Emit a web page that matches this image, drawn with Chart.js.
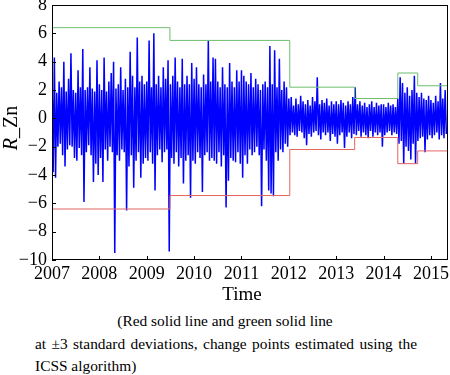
<!DOCTYPE html>
<html>
<head>
<meta charset="utf-8">
<script src="https://cdn.jsdelivr.net/npm/chart.js@4/dist/chart.umd.min.js"></script>
<style>
  html, body { margin: 0; padding: 0; background: #fff; }
  #wrap { position: relative; width: 450px; height: 305px; }
  .caption { font-family: 'Liberation Serif', 'Times New Roman', serif; font-size: 15.4px; line-height: 22.5px; color: #000; }
  .cap1 { text-align: center; margin-top: 5px; }
  .cap2 { margin: 0 33px 0 35px; text-align: justify; }
</style>
</head>
<body>
<div id="wrap"><canvas id="chart" width="450" height="305"></canvas></div>
<div class="caption cap1">(Red solid line and green solid line</div>
<div class="caption cap2">at ±3 standard deviations, change points estimated using the ICSS algorithm)</div>
<script>
// R_Zn returns: 40 samples per year (spike tops / bottoms)
var r2007 = [3.0,-3.8, 4.3,-4.2, 1.8,-2.0, 2.6,-1.8, 2.2,-2.6, 4.0,-3.4, 1.9,-2.2, 2.8,-1.9, 4.6,-2.0, 2.0,-2.8,
             1.8,-3.0, 3.4,-2.1, 2.2,-2.6, 4.9,-5.9, 2.0,-2.4, 2.2,-1.9, 3.6,-2.6, 2.1,-4.5, 1.9,-3.2, 4.1,-4.0];
var r2008 = [2.4,-2.8, 2.0,-4.5, 4.3,-2.2, 1.9,-3.0, 2.6,-2.0, 3.2,-2.4, 4.0,-9.5, 2.1,-2.6, 2.4,-3.0, 3.6,-2.2,
             2.0,-2.4, 2.8,-6.5, 2.2,-3.4, 4.7,-2.6, 3.0,-4.9, 2.2,-3.0, 5.7,-2.4, 2.6,-4.2, 3.0,-3.2, 2.4,-2.8];
var r2009 = [2.6,-3.0, 5.5,-2.4, 2.2,-3.2, 6.0,-5.1, 2.4,-2.6, 3.0,-2.2, 2.2,-3.1, 3.6,-2.4, 2.8,-2.2, 4.1,-9.4,
             2.4,-2.8, 3.0,-3.2, 4.3,-2.4, 2.6,-3.4, 2.2,-2.8, 4.2,-4.6, 2.4,-3.0, 3.0,-2.6, 2.4,-5.6, 3.9,-3.0];
var r2010 = [2.8,-3.2, 3.6,-2.4, 2.4,-2.8, 2.2,-5.2, 3.1,-2.6, 2.4,-2.4, 5.5,-3.0, 2.6,-2.8, 4.3,-3.0, 4.2,-3.2,
             2.6,-2.4, 2.2,-3.4, 3.6,-2.6, 2.4,-6.3, 2.2,-4.4, 3.9,-2.8, 2.6,-3.0, 2.2,-3.1, 3.4,-2.4, 2.6,-3.2];
var r2011 = [3.4,-4.2, 3.0,-2.6, 2.6,-3.2, 2.4,-2.2, 3.2,-2.6, 2.2,-2.4, 2.8,-2.0, 2.4,-2.6, 2.0,-6.2, 2.4,-2.2,
             2.6,-3.0, 2.2,-5.1, 5.1,-5.3, 2.4,-5.5, 4.8,-2.4, 2.2,-3.0, 4.2,-2.2, 2.0,-2.4, 2.6,-1.8, 2.2,-2.0];
var r2012 = [1.4,-1.2, 1.5,-1.0, 0.9,-1.2, 1.4,-1.3, 1.0,-0.9, 1.6,-1.0, 1.2,-1.4, 1.0,-1.9, 1.3,-1.1, 0.9,-1.3,
             1.5,-1.0, 1.2,-0.9, 2.9,-1.2, 1.0,-1.5, 1.3,-1.0, 1.1,-1.2, 1.4,-1.0, 0.9,-1.6, 1.2,-1.1, 1.0,-1.3];
var r2013 = [1.2,-1.8, 1.0,-1.2, 1.3,-1.0, 1.1,-2.1, 0.9,-1.3, 1.2,-1.0, 1.0,-1.4, 1.5,-1.1, 2.2,-1.2, 1.0,-0.9,
             1.2,-1.3, 0.9,-1.0, 1.1,-1.2, 0.8,-1.4, 1.0,-0.9, 1.2,-1.3, 0.8,-1.0, 1.1,-1.2, 0.9,-1.0, 1.0,-2.0];
var r2014 = [1.0,-1.2, 0.8,-1.0, 1.1,-0.9, 0.9,-1.2, 1.0,-1.0, 0.8,-1.1, 1.4,-1.8, 2.9,-1.6, 2.5,-3.2, 1.8,-2.0,
             2.2,-2.3, 1.6,-2.9, 2.0,-1.8, 3.0,-3.2, 1.8,-1.6, 1.5,-1.4, 1.8,-1.3, 1.4,-2.4, 1.3,-1.5, 1.6,-1.2];
var r2015 = [1.3,-1.4, 1.1,-1.2, 1.6,-1.0, 1.2,-1.5, 2.5,-1.2, 1.4,-1.4, 2.0,-1.1];

var startYear = 2007;
var samplesPerYear = 40;

// ICSS change points and +/-3 sd bands
var changeYears = [2007, 2009.49, 2012.02, 2013.39, 2014.30, 2014.72, 2015.36];
var upperBand = [6.4, 5.5, 2.2, 1.4, 3.2, 2.3];
var lowerBand = [-6.4, -5.45, -2.2, -1.35, -3.2, -2.3];

var xTitle = 'Time';
var serif = '"Liberation Serif", "Times New Roman", serif';

var rZn = [].concat(r2007, r2008, r2009, r2010, r2011, r2012, r2013, r2014, r2015);
var seriesPoints = [];
for (var i = 0; i < rZn.length; i++) {
  seriesPoints.push({ x: startYear + i / samplesPerYear, y: rZn[i] });
}

function bandPoints(levels) {
  var pts = [];
  for (var i = 0; i < levels.length; i++) {
    pts.push({ x: changeYears[i], y: levels[i] });
  }
  pts.push({ x: changeYears[changeYears.length - 1], y: levels[levels.length - 1] });
  return pts;
}

// box, inward tick marks and axis titles (R in italics)
var framePlugin = {
  id: 'frame',
  afterDraw: function(chart) {
    var ctx = chart.ctx, a = chart.chartArea;
    var xs = chart.scales.x, ys = chart.scales.y;
    ctx.save();
    ctx.strokeStyle = '#000';
    ctx.lineWidth = 1;
    ctx.strokeRect(Math.round(a.left) + 0.5, Math.round(a.top) + 0.5,
                   Math.round(a.right - a.left) - 1, Math.round(a.bottom - a.top) - 1);
    ctx.beginPath();
    xs.ticks.forEach(function(t) {
      var px = Math.round(xs.getPixelForValue(t.value)) + 0.5;
      ctx.moveTo(px, a.bottom);
      ctx.lineTo(px, a.bottom - 4);
    });
    ys.ticks.forEach(function(t) {
      var py = Math.round(ys.getPixelForValue(t.value)) + 0.5;
      ctx.moveTo(a.left, py);
      ctx.lineTo(a.left + 4, py);
    });
    ctx.stroke();

    ctx.fillStyle = '#000';
    ctx.textBaseline = 'middle';
    ctx.textAlign = 'center';
    ctx.font = '19px ' + serif;
    ctx.fillText(xTitle, 242, 295);

    ctx.translate(12, 128);
    ctx.rotate(-Math.PI / 2);
    ctx.textAlign = 'left';
    ctx.font = 'italic 20px ' + serif;
    var w1 = ctx.measureText('R').width;
    ctx.font = '20px ' + serif;
    var w2 = ctx.measureText('_Zn').width;
    var x0 = -(w1 + w2) / 2;
    ctx.font = 'italic 20px ' + serif;
    ctx.fillText('R', x0, 0);
    ctx.font = '20px ' + serif;
    ctx.fillText('_Zn', x0 + w1, 0);
    ctx.restore();
  }
};

var ctx = document.getElementById('chart').getContext('2d');
new Chart(ctx, {
  type: 'line',
  data: {
    datasets: [
      {
        label: 'upper',
        data: bandPoints(upperBand),
        borderColor: 'rgb(110,190,110)',
        borderWidth: 1,
        pointRadius: 0,
        stepped: true
      },
      {
        label: 'lower',
        data: bandPoints(lowerBand),
        borderColor: 'rgb(228,100,100)',
        borderWidth: 1,
        pointRadius: 0,
        stepped: true
      },
      {
        label: 'R_Zn',
        data: seriesPoints,
        borderColor: '#0000ff',
        borderWidth: 1.5,
        pointRadius: 0,
        tension: 0
      }
    ]
  },
  options: {
    responsive: false,
    animation: false,
    devicePixelRatio: 1,
    layout: { padding: { top: 5, right: 2, left: 0, bottom: 0 } },
    plugins: { legend: { display: false }, tooltip: { enabled: false } },
    scales: {
      x: {
        type: 'linear',
        min: 2007,
        max: 2015.36,
        grid: { display: false, drawTicks: false },
        border: { display: false },
        ticks: {
          stepSize: 1,
          includeBounds: false,
          autoSkip: false,
          maxRotation: 0,
          padding: 3,
          color: '#000',
          font: { family: serif, size: 18 },
          callback: function(v) { return String(v); }
        },
        afterFit: function(s) { s.height = 45; s.paddingLeft = 0; s.paddingRight = 0; }
      },
      y: {
        min: -10,
        max: 8,
        grid: { display: false, drawTicks: false },
        border: { display: false },
        ticks: {
          stepSize: 2,
          padding: 5,
          color: '#000',
          font: { family: serif, size: 18 },
          callback: function(v) { return v < 0 ? '\u2212' + Math.abs(v) : String(v); }
        },
        afterFit: function(s) { s.width = 52; s.paddingTop = 0; s.paddingBottom = 0; }
      }
    }
  },
  plugins: [framePlugin]
});
</script>
</body>
</html>
